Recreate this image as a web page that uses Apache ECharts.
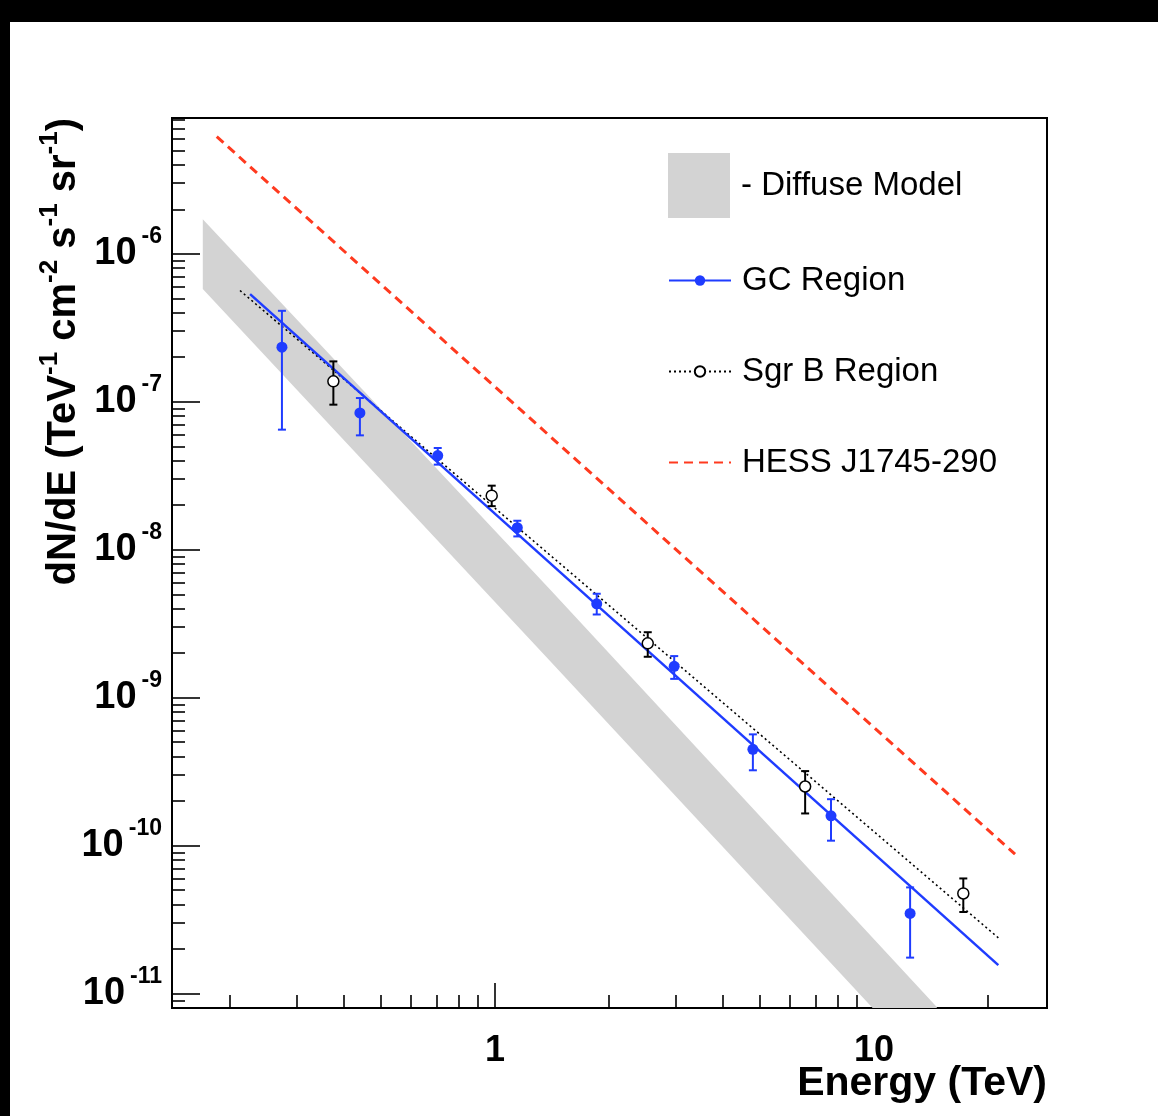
<!DOCTYPE html>
<html>
<head>
<meta charset="utf-8">
<script src="https://cdn.jsdelivr.net/npm/echarts@6/dist/echarts.min.js"></script>
<style>
html, body { margin: 0; padding: 0; background: #fff; }
#chart { width: 1158px; height: 1116px; }
.edge { position: absolute; background: #000; }
</style>
</head>
<body>
<div id="chart"></div>
<div class="edge" style="left:0;top:0;width:1158px;height:22px"></div>
<div class="edge" style="left:0;top:0;width:10px;height:1116px"></div>
<script>
// ---------- data (TeV, TeV^-1 cm^-2 s^-1 sr^-1) ----------
const gcEnergy = [0.274, 0.440, 0.706, 1.145, 1.855, 2.97, 4.79, 7.70, 12.45];
const gcFlux   = [2.34e-7, 8.40e-8, 4.33e-8, 1.41e-8, 4.31e-9, 1.63e-9, 4.48e-10, 1.59e-10, 3.48e-11];
const gcHigh   = [4.12e-7, 1.06e-7, 4.87e-8, 1.57e-8, 5.04e-9, 1.91e-9, 5.65e-10, 2.06e-10, 5.22e-11];
const gcLow    = [6.48e-8, 5.93e-8, 3.76e-8, 1.23e-8, 3.65e-9, 1.34e-9, 3.23e-10, 1.08e-10, 1.75e-11];

const sgrEnergy = [0.3745, 0.980, 2.529, 6.58, 17.2];
const sgrFlux   = [1.374e-7, 2.32e-8, 2.33e-9, 2.51e-10, 4.75e-11];
const sgrHigh   = [1.875e-7, 2.71e-8, 2.77e-9, 3.19e-10, 6.0e-11];
const sgrLow    = [9.56e-8, 1.97e-8, 1.89e-9, 1.65e-10, 3.56e-11];

const gcFitEnergy  = [0.2258, 21.28];
const gcFitFlux    = [5.34e-7, 1.556e-11];
const sgrFitEnergy = [0.2124, 21.5];
const sgrFitFlux   = [5.65e-7, 2.33e-11];
const hessEnergy   = [0.1844, 23.55];
const hessFlux     = [6.19e-6, 8.75e-11];

const diffuseEnergy = [0.1694, 1.397, 14.64];
const diffuseHigh   = [1.715e-6, 5.39e-9, 8.11e-12];
const diffuseLow    = [5.78e-7, 1.77e-9, 2.73e-12];

const xLabelTicks = [1, 10];
const yLabelTicks = [1e-11, 1e-10, 1e-9, 1e-8, 1e-7, 1e-6];
const xRange = [0.1405, 28.6];
const yRange = [7.99e-12, 8.28e-6];

// ---------- helpers ----------
const L = Math.log10;
const FONT = '"Liberation Sans", Arial, Helvetica, sans-serif';
const BLUE = '#1f3cff', RED = '#ff3a1f', GRAY = '#d3d3d3';
const xMin = L(xRange[0]), xMax = L(xRange[1]);
const yMin = L(yRange[0]), yMax = L(yRange[1]);

function minorTicks(lo, hi) {
  const out = [];
  for (let n = Math.floor(lo) - 1; n <= Math.ceil(hi); n++) {
    for (let k = 2; k <= 9; k++) {
      const v = n + L(k);
      if (v > lo && v < hi) out.push(v);
    }
  }
  return out;
}
const pts = (E, F) => E.map((e, i) => [L(e), L(F[i])]);
const errs = (E, lo, hi) => E.map((e, i) => [L(e), L(lo[i]), L(hi[i])]);

function errorBars(name, data, color, width) {
  return {
    type: 'custom', name: name, data: data, z: 4, silent: true,
    encode: { x: 0, y: [1, 2] },
    itemStyle: { color: color },
    renderItem: function (params, api) {
      const x = api.value(0);
      const lo = api.coord([x, api.value(1)]);
      const hi = api.coord([x, api.value(2)]);
      const hw = 4;
      const st = { stroke: color, lineWidth: width };
      return {
        type: 'group', children: [
          { type: 'line', shape: { x1: lo[0], y1: lo[1], x2: hi[0], y2: hi[1] }, style: st },
          { type: 'line', shape: { x1: lo[0] - hw, y1: lo[1], x2: lo[0] + hw, y2: lo[1] }, style: st },
          { type: 'line', shape: { x1: hi[0] - hw, y1: hi[1], x2: hi[0] + hw, y2: hi[1] }, style: st }
        ]
      };
    }
  };
}

const bandData = errs(diffuseEnergy, diffuseLow, diffuseHigh);
const axisLineStyle = { color: '#000', width: 2 };
const tickStyle = { color: '#000', width: 1.6 };
const labelBase = { fontFamily: FONT, fontWeight: 'bold', color: '#000' };

const chart = echarts.init(document.getElementById('chart'), null, { renderer: 'canvas' });
chart.setOption({
  animation: false,
  backgroundColor: '#fff',
  grid: { left: 172, top: 118, width: 875, height: 890, show: true, borderColor: '#000', borderWidth: 2, backgroundColor: '#fff', containLabel: false, outerBoundsMode: 'none' },
  xAxis: [
    {
      type: 'value', position: 'bottom', min: xMin, max: xMax,
      axisLine: { show: true, onZero: false, lineStyle: axisLineStyle },
      axisTick: { show: true, inside: true, length: 25, customValues: xLabelTicks.map(L), lineStyle: tickStyle },
      axisLabel: {
        show: true, customValues: xLabelTicks.map(L), margin: 25,
        formatter: function (v) { return String(Math.round(Math.pow(10, v))); },
        fontSize: 36, fontFamily: FONT, fontWeight: 'bold', color: '#000'
      },
      splitLine: { show: false }
    },
    {
      type: 'value', position: 'bottom', min: xMin, max: xMax,
      axisLine: { show: false, onZero: false },
      axisTick: { show: true, inside: true, length: 13, customValues: minorTicks(xMin, xMax), lineStyle: tickStyle },
      axisLabel: { show: false }, splitLine: { show: false }
    }
  ],
  yAxis: [
    {
      type: 'value', position: 'left', min: yMin, max: yMax,
      axisLine: { show: true, onZero: false, lineStyle: axisLineStyle },
      axisTick: { show: true, inside: true, length: 28, customValues: yLabelTicks.map(L), lineStyle: tickStyle },
      axisLabel: {
        show: true, customValues: yLabelTicks.map(L), margin: 10,
        formatter: function (v) { return '{b|10}{s|' + Math.round(v) + '}'; },
        rich: {
          b: Object.assign({ fontSize: 38, lineHeight: 38, verticalAlign: 'middle' }, labelBase),
          s: Object.assign({ fontSize: 23, lineHeight: 23, padding: [0, 0, 34, 5], verticalAlign: 'middle' }, labelBase)
        }
      },
      splitLine: { show: false }
    },
    {
      type: 'value', position: 'left', min: yMin, max: yMax,
      axisLine: { show: false, onZero: false },
      axisTick: { show: true, inside: true, length: 13, customValues: minorTicks(yMin, yMax), lineStyle: tickStyle },
      axisLabel: { show: false }, splitLine: { show: false }
    }
  ],
  legend: [
    {
      data: [{ name: 'Diffuse Model', icon: 'rect' }],
      left: 668, top: 153, orient: 'vertical', padding: 0,
      itemWidth: 62, itemHeight: 65,
      formatter: function (n) { return '- ' + n; },
      textStyle: { fontSize: 33, fontFamily: FONT, color: '#000', padding: [3, 0, 0, 6] }
    },
    {
      data: ['GC Region', 'Sgr B Region', 'HESS J1745-290'],
      left: 668, top: 264, orient: 'vertical', padding: 0,
      itemWidth: 62, itemHeight: 13, itemGap: 58,
      textStyle: { fontSize: 33, fontFamily: FONT, color: '#000', padding: [0, 0, 0, 6] }
    }
  ],
  graphic: [
    {
      type: 'text', x: 64, y: 118, rotation: Math.PI / 2, z: 100,
      style: {
        text: '{t|dN/dE (TeV}{s|-1}{t| cm}{s|-2}{t| s}{s|-1}{t| sr}{s|-1}{t|)}',
        align: 'right', verticalAlign: 'middle',
        rich: {
          t: { fontSize: 40, lineHeight: 40, fontFamily: FONT, fontWeight: 'bold', fill: '#000', verticalAlign: 'middle' },
          s: { fontSize: 26, lineHeight: 26, fontFamily: FONT, fontWeight: 'bold', fill: '#000', verticalAlign: 'middle', padding: [0, 0, 28, 0] }
        }
      }
    },
    {
      type: 'text', x: 1047, y: 1084, z: 100,
      style: {
        text: 'Energy (TeV)', align: 'right', verticalAlign: 'middle',
        fontSize: 41, fontFamily: FONT, fontWeight: 'bold', fill: '#000'
      }
    }
  ],
  series: [
    {
      type: 'custom', name: 'Diffuse Model', clip: true, z: 1, silent: true,
      data: bandData, encode: { x: 0, y: [1, 2] },
      itemStyle: { color: GRAY },
      renderItem: function (params, api) {
        if (params.dataIndex !== 0) return null;
        const up = bandData.map(function (d) { return api.coord([d[0], d[2]]); });
        const lo = bandData.map(function (d) { return api.coord([d[0], d[1]]); }).reverse();
        return { type: 'polygon', shape: { points: up.concat(lo) }, style: { fill: GRAY } };
      }
    },
    {
      type: 'line', name: 'HESS J1745-290', data: pts(hessEnergy, hessFlux), z: 2,
      symbol: 'circle', showSymbol: false, silent: true,
      itemStyle: { color: 'rgba(0,0,0,0)' },
      lineStyle: { color: RED, width: 3, type: [9, 6] }
    },
    {
      type: 'line', name: 'Sgr B Region', data: pts(sgrFitEnergy, sgrFitFlux), z: 2,
      symbol: 'emptyCircle', symbolSize: 10, showSymbol: false, silent: true,
      itemStyle: { color: '#000' },
      lineStyle: { color: '#000', width: 1.6, type: [2, 3] }
    },
    {
      type: 'line', name: 'GC Region', data: pts(gcFitEnergy, gcFitFlux), z: 3,
      symbol: 'circle', symbolSize: 11, showSymbol: false, silent: true,
      itemStyle: { color: BLUE },
      lineStyle: { color: BLUE, width: 2.5 }
    },
    errorBars('Sgr B Region', errs(sgrEnergy, sgrLow, sgrHigh), '#000', 2),
    errorBars('GC Region', errs(gcEnergy, gcLow, gcHigh), BLUE, 2),
    {
      type: 'scatter', name: 'Sgr B Region', data: pts(sgrEnergy, sgrFlux), z: 5,
      symbol: 'circle', symbolSize: 11, silent: true,
      itemStyle: { color: '#fff', borderColor: '#000', borderWidth: 1.5, opacity: 1 }
    },
    {
      type: 'scatter', name: 'GC Region', data: pts(gcEnergy, gcFlux), z: 5,
      symbol: 'circle', symbolSize: 11, silent: true,
      itemStyle: { color: BLUE, opacity: 1 }
    }
  ]
});
</script>
</body>
</html>
